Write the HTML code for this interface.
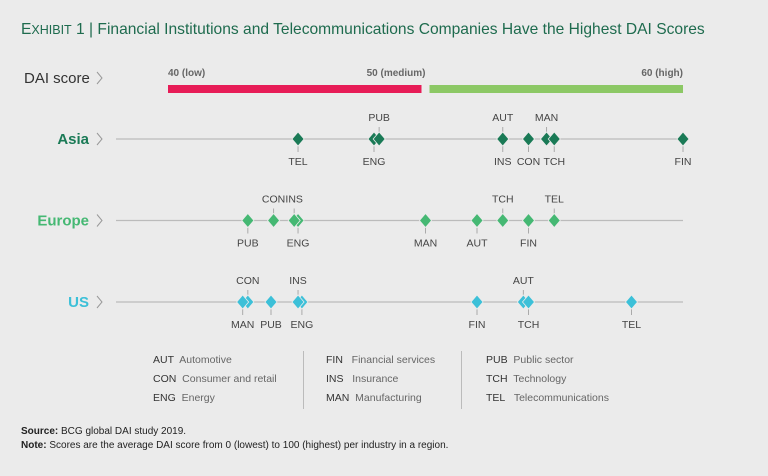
<!DOCTYPE html>
<html><head><meta charset="utf-8"><style>
body{margin:0;width:768px;height:476px;background:#ebebeb;font-family:"Liberation Sans",sans-serif;overflow:hidden;position:relative}
.t{position:absolute;white-space:nowrap}
</style></head><body>
<div class="t" style="left:21px;top:21px;font-size:15.6px;color:#1e6b4e">E<span style="font-size:12.5px">XHIBIT</span> 1 | Financial Institutions and Telecommunications Companies Have the Highest DAI Scores</div>
<svg width="768" height="476" style="position:absolute;left:0;top:0" id="chart"></svg>
<script>
const regions=["Asia","Europe","US"];
const regionColors=["#1a7a56","#45b873","#3cc0d8"];
const industries=["AUT","CON","ENG","FIN","INS","MAN","PUB","TCH","TEL"];
const asiaScores=[53.0,54.0,48.0,60.0,53.0,54.7,48.2,55.0,45.05];
const europeScores=[52.0,44.1,45.05,54.0,44.9,50.0,43.1,53.0,55.0];
const usScores=[53.8,43.1,45.2,52.0,45.05,42.9,44.0,54.0,58.0];
const asiaAbove=["PUB","AUT","MAN"];
const europeAbove=["CON","INS","TCH","TEL"];
const usAbove=["CON","INS","AUT"];
const scaleTicks=[40,50,60];
const scaleLabels=["40 (low)","50 (medium)","60 (high)"];
const allScores=[asiaScores,europeScores,usScores];
const allAbove=[asiaAbove,europeAbove,usAbove];
const NS="http://www.w3.org/2000/svg";
const svg=document.getElementById('chart');
function x(v){return 168+(v-40)*(683-168)/20;}
function rowY(i){return 139+i*81.5;}
function mk(tag,attrs,parent){const e=document.createElementNS(NS,tag);for(const k in attrs)e.setAttribute(k,attrs[k]);(parent||svg).appendChild(e);return e;}
function txt(s,attrs){const e=mk('text',attrs);e.textContent=s;return e;}
let t=txt("DAI score",{x:24,y:83,'font-size':15,fill:'#333'});


mk('path',{d:'M97 72 L102 78 L97 84',fill:'none',stroke:'#999','stroke-width':1});
let r=mk('rect',{x:x(40),y:85,width:x(50)-x(40)-4,height:8,fill:'#e71c57'});


r=mk('rect',{x:x(50)+4,y:85,width:x(60)-x(50)-4,height:8,fill:'#8cc865'});


scaleTicks.forEach((v,i)=>{const e=txt(scaleLabels[i],{x:x(v),y:76,'font-size':10,fill:'#666','font-weight':'600','text-anchor':i==0?'start':'end'});

});
regions.forEach((reg,ri)=>{
 const y=rowY(ri);
 const lab=txt(reg,{x:89,y:y+5,'font-size':15,'font-weight':'bold',fill:regionColors[ri],'text-anchor':'end'});
 
 
 mk('path',{d:`M97 ${y-6} L102 ${y} L97 ${y+6}`,fill:'none',stroke:'#999','stroke-width':1});
 const ln=mk('line',{x1:116,y1:y,x2:683,y2:y,stroke:'#bbb','stroke-width':1.2});
 
 
 industries.forEach((ind,ii)=>{
  const v=allScores[ri][ii],px=x(v),up=allAbove[ri].includes(ind);
  mk('line',{x1:px,y1:up?y-12:y+7,x2:px,y2:up?y-6:y+13,stroke:'#aaa','stroke-width':1});
  const d=mk('path',{d:`M${px} ${y-7} L${px+6} ${y} L${px} ${y+7} L${px-6} ${y} Z`,fill:regionColors[ri],stroke:'#ebebeb','stroke-width':0.8});
  
  
  const l=txt(ind,{x:px,y:up?y-18:y+26,'font-size':10.5,fill:'#444','text-anchor':'middle'});
  
  
 });
});
</script>
<div style="position:absolute;left:153px;top:351px;font-size:10.5px;color:#666;line-height:19px">
<div class="t" style="left:0;top:0"><span style="color:#333">AUT</span>&nbsp; Automotive<br><span style="color:#333">CON</span>&nbsp; Consumer and retail<br><span style="color:#333">ENG</span>&nbsp; Energy</div>
<div class="t" style="left:150px;top:0;height:58px;border-left:1px solid #bbb"></div>
<div class="t" style="left:173px;top:0"><span style="color:#333">FIN</span>&nbsp;&nbsp; Financial services<br><span style="color:#333">INS</span>&nbsp;&nbsp; Insurance<br><span style="color:#333">MAN</span>&nbsp; Manufacturing</div>
<div class="t" style="left:308px;top:0;height:58px;border-left:1px solid #bbb"></div>
<div class="t" style="left:333px;top:0"><span style="color:#333">PUB</span>&nbsp; Public sector<br><span style="color:#333">TCH</span>&nbsp; Technology<br><span style="color:#333">TEL</span>&nbsp;&nbsp; Telecommunications</div>
</div>
<div class="t" style="left:21px;top:426px;font-size:10px;color:#222"><b>Source:</b> BCG global DAI study 2019.</div>
<div class="t" style="left:21px;top:440px;font-size:10px;color:#222"><b>Note:</b> Scores are the average DAI score from 0 (lowest) to 100 (highest) per industry in a region.</div>
</body></html>
